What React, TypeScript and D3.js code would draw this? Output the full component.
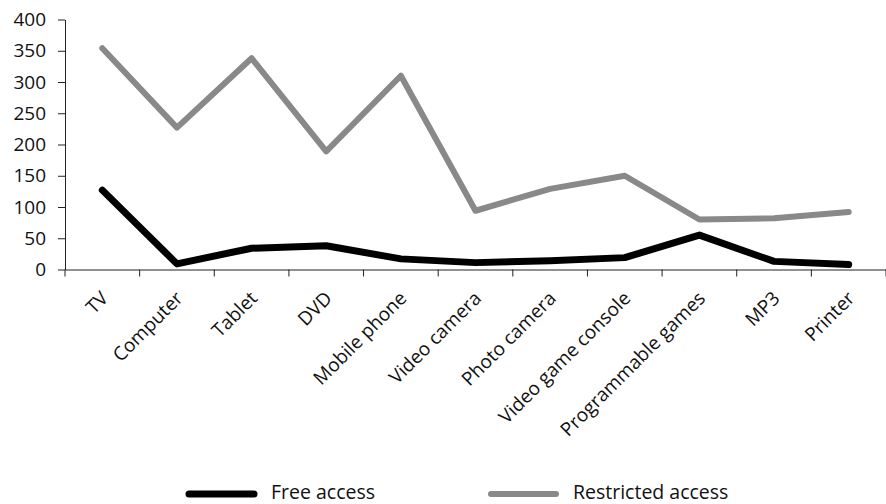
import React, { useRef, useEffect } from 'react';
import * as d3 from 'd3';

const categories = [
  'TV', 'Computer', 'Tablet', 'DVD', 'Mobile phone', 'Video camera',
  'Photo camera', 'Video game console', 'Programmable games', 'MP3', 'Printer',
];
const freeAccess = [127, 9, 34, 38, 17, 11, 14, 19, 55, 13, 8];
const restrictedAccess = [354, 227, 338, 189, 310, 94, 129, 150, 80, 82, 92];
const yTicks = [0, 50, 100, 150, 200, 250, 300, 350, 400];

const series = [
  { name: 'Free access', values: freeAccess, color: '#000000', width: 7 },
  { name: 'Restricted access', values: restrictedAccess, color: '#898989', width: 6 },
];

const W = 886;
const H = 504;
const FONT = '"Open Sans", "Noto Sans", sans-serif';

export default function App() {
  const svgRef = useRef<SVGSVGElement>(null);

  useEffect(() => {
    if (!svgRef.current) return;
    const svg = d3.select(svgRef.current);
    svg.selectAll('*').remove();

    const left = 65, right = 886, top = 19.5, bottom = 269.5;

    const x = d3.scaleBand<string>().domain(categories).range([left, right]);
    const y = d3.scaleLinear().domain([0, 400]).range([bottom, top]);

    // y axis
    const yAxis = svg.append('g')
      .attr('transform', `translate(${left},0)`)
      .call(d3.axisLeft(y).tickValues(yTicks).tickSize(7).tickSizeOuter(0).tickPadding(12));
    yAxis.select('.domain').attr('stroke', '#222');
    yAxis.selectAll('.tick line').attr('stroke', '#222');
    yAxis.selectAll('.tick text')
      .attr('font-family', FONT).attr('font-size', 19).attr('fill', '#111');

    // x axis
    const xAxis = svg.append('g')
      .attr('transform', `translate(0,${bottom})`)
      .call(d3.axisBottom(x).tickSize(0).tickFormat(() => ''));
    xAxis.select('.domain').attr('stroke', '#222');
    xAxis.selectAll('.tick').remove();

    // tick marks at band boundaries
    const bounds = categories.map((c) => x(c) as number).concat([right]);
    svg.append('g').selectAll('line')
      .data(bounds)
      .join('line')
      .attr('x1', (d) => d).attr('x2', (d) => d)
      .attr('y1', bottom).attr('y2', bottom + 7)
      .attr('stroke', '#222');

    // category labels
    svg.append('g').selectAll('text')
      .data(categories)
      .join('text')
      .attr('transform', (d) => {
        const cx = (x(d) as number) + x.bandwidth() / 2 + 7;
        return `translate(${cx},${bottom + 30}) rotate(-45)`;
      })
      .attr('text-anchor', 'end')
      .attr('font-family', FONT)
      .attr('font-size', 19)
      .attr('fill', '#111')
      .text((d) => d);

    // lines
    const line = d3.line<number>()
      .x((_, i) => (x(categories[i]) as number) + x.bandwidth() / 2)
      .y((d) => y(d));

    [...series].reverse().forEach((s) => {
      svg.append('path')
        .attr('d', line(s.values))
        .attr('fill', 'none')
        .attr('stroke', s.color)
        .attr('stroke-width', s.width)
        .attr('stroke-linecap', 'round')
        .attr('stroke-linejoin', 'round');
    });

    // legend
    const legendX = [189, 491];
    const legendY = 494;
    const lg = svg.append('g');
    series.forEach((s, i) => {
      lg.append('line')
        .attr('x1', legendX[i]).attr('x2', legendX[i] + 65)
        .attr('y1', legendY).attr('y2', legendY)
        .attr('stroke', s.color)
        .attr('stroke-width', s.width)
        .attr('stroke-linecap', 'round');
      lg.append('text')
        .attr('x', legendX[i] + 82)
        .attr('y', 499)
        .attr('font-family', FONT)
        .attr('font-size', 19.5)
        .attr('fill', '#111')
        .text(s.name);
    });
  }, []);

  return (
    <svg
      ref={svgRef}
      width={W}
      height={H}
      style={{ position: 'absolute', top: 0, left: 0, background: '#fff' }}
    />
  );
}
